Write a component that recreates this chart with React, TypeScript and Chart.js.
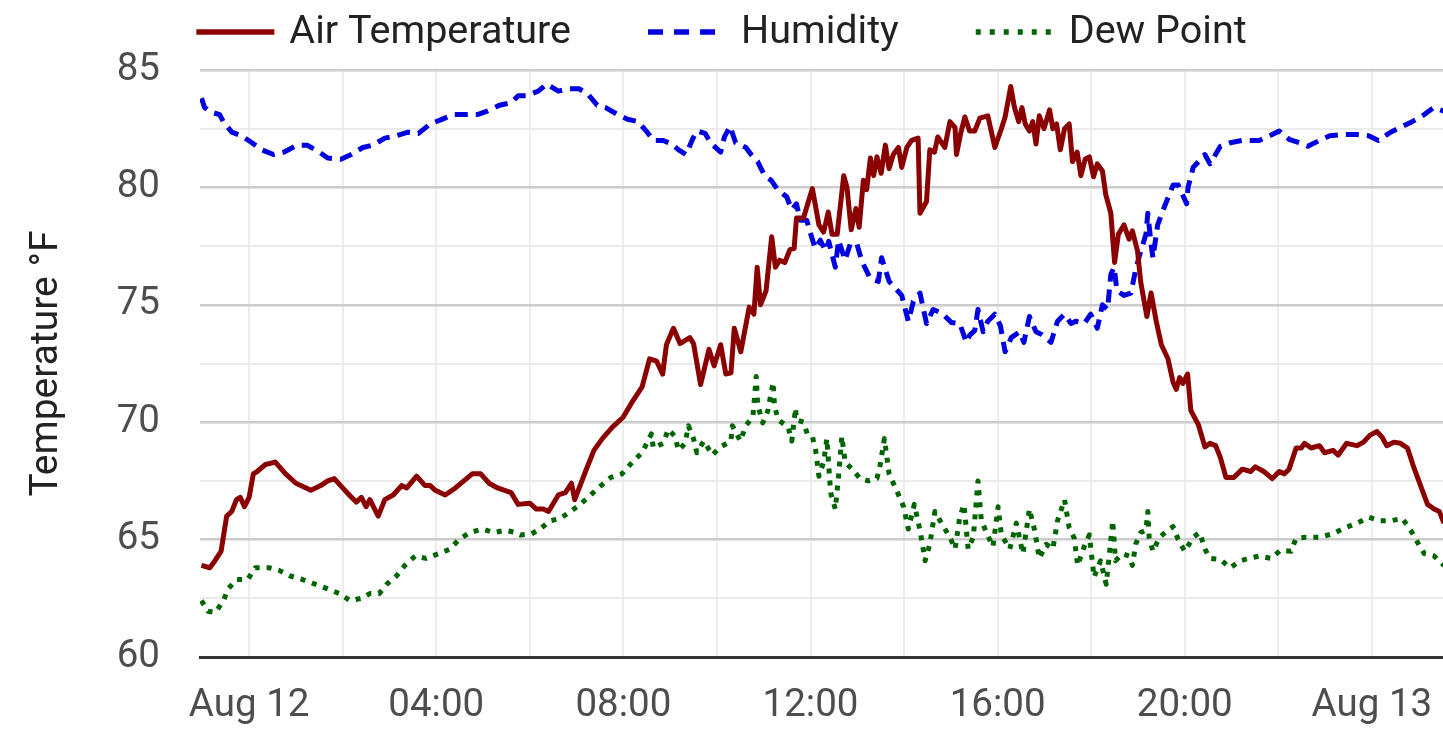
import { useEffect, useRef } from "react";
import { Chart, registerables, type ChartConfiguration, type Plugin } from "chart.js";

Chart.register(...registerables);

// hours relative to Aug 12 00:00, value
const airTemp: [number, number][] = [
  [-1.02, 63.9], [-0.84, 63.8], [-0.73, 64.1], [-0.6, 64.5], [-0.48, 66.0], [-0.37, 66.2], [-0.27, 66.7],
  [-0.19, 66.8], [-0.1, 66.4], [0, 66.8], [0.09, 67.8], [0.17, 67.9], [0.35, 68.2], [0.56, 68.3],
  [0.78, 67.8], [1.0, 67.4], [1.32, 67.1], [1.53, 67.3], [1.68, 67.5], [1.82, 67.6], [2.0, 67.2],
  [2.14, 66.9], [2.29, 66.6], [2.4, 66.8], [2.5, 66.4], [2.58, 66.7], [2.76, 66.0], [2.9, 66.7],
  [3.08, 66.9], [3.26, 67.3], [3.37, 67.2], [3.58, 67.7], [3.76, 67.3], [3.87, 67.3], [3.98, 67.1],
  [4.19, 66.9], [4.41, 67.2], [4.59, 67.5], [4.77, 67.8], [4.95, 67.8], [5.13, 67.4], [5.31, 67.2],
  [5.6, 67.0], [5.75, 66.5], [6.0, 66.55], [6.14, 66.3], [6.29, 66.3], [6.4, 66.2], [6.61, 66.9],
  [6.76, 67.0], [6.89, 67.4], [6.96, 66.7], [7.19, 67.9], [7.37, 68.8], [7.55, 69.3], [7.77, 69.8],
  [7.99, 70.2], [8.2, 70.9], [8.4, 71.5], [8.56, 72.7], [8.71, 72.6], [8.84, 72.05], [8.92, 73.3],
  [9.07, 74.0], [9.21, 73.35], [9.42, 73.6], [9.5, 73.35], [9.65, 71.6], [9.83, 73.1], [9.94, 72.4],
  [10.08, 73.3], [10.19, 72.05], [10.3, 72.1], [10.37, 74.0], [10.51, 73.0], [10.69, 74.9], [10.79, 74.6],
  [10.86, 76.6], [10.93, 75.0], [11.05, 75.6], [11.17, 77.9], [11.25, 76.6], [11.34, 76.9], [11.45, 76.8],
  [11.56, 77.35], [11.65, 77.4], [11.7, 78.7], [11.85, 78.7], [12.04, 79.95], [12.18, 78.4], [12.28, 78.1],
  [12.38, 78.95], [12.46, 78.0], [12.57, 78.0], [12.71, 80.5], [12.78, 80.0], [12.87, 78.2], [12.97, 79.1],
  [13.04, 78.3], [13.13, 80.3], [13.2, 79.9], [13.28, 81.25], [13.35, 80.5], [13.42, 81.3], [13.51, 80.6],
  [13.6, 81.8], [13.68, 80.8], [13.77, 81.4], [13.88, 81.7], [13.95, 80.85], [14.06, 81.7], [14.16, 82.0],
  [14.3, 82.1], [14.34, 78.9], [14.48, 79.4], [14.55, 81.6], [14.65, 81.5], [14.72, 82.15], [14.87, 81.7],
  [14.98, 82.8], [15.09, 82.55], [15.12, 81.4], [15.21, 82.3], [15.3, 83.0], [15.4, 82.4], [15.51, 82.4],
  [15.62, 82.95], [15.79, 83.05], [15.94, 81.7], [16.08, 82.5], [16.16, 83.0], [16.28, 84.3], [16.36, 83.4],
  [16.45, 82.8], [16.52, 83.4], [16.59, 82.7], [16.68, 82.4], [16.75, 82.8], [16.82, 81.85], [16.89, 83.05],
  [16.99, 82.5], [17.11, 83.3], [17.18, 82.5], [17.26, 82.7], [17.34, 81.6], [17.43, 82.5], [17.53, 82.7],
  [17.6, 81.1], [17.7, 81.5], [17.78, 80.5], [17.87, 81.2], [17.96, 81.3], [18.05, 80.45], [18.13, 81.0],
  [18.24, 80.7], [18.31, 79.7], [18.42, 78.9], [18.5, 76.8], [18.58, 78.0], [18.7, 78.4], [18.81, 77.8],
  [18.88, 78.15], [18.99, 77.3], [19.06, 75.95], [19.19, 74.5], [19.28, 75.5], [19.39, 74.3], [19.5, 73.3],
  [19.64, 72.7], [19.75, 71.7], [19.82, 71.4], [19.89, 71.9], [19.96, 71.65], [20.06, 72.05], [20.13, 70.5],
  [20.29, 69.9], [20.43, 68.95], [20.54, 69.1], [20.66, 69.0], [20.76, 68.5], [20.88, 67.65], [21.05, 67.65],
  [21.23, 68.0], [21.41, 67.9], [21.51, 68.1], [21.69, 67.9], [21.87, 67.6], [22.02, 67.9], [22.13, 67.8],
  [22.23, 68.0], [22.38, 68.9], [22.49, 68.9], [22.56, 69.1], [22.7, 68.9], [22.88, 69.0], [22.99, 68.7],
  [23.17, 68.8], [23.28, 68.6], [23.46, 69.1], [23.68, 69.0], [23.82, 69.15], [23.96, 69.45], [24.11, 69.6],
  [24.22, 69.35], [24.32, 69.0], [24.47, 69.15], [24.61, 69.1], [24.76, 68.9], [24.9, 68.05], [25.05, 67.25],
  [25.19, 66.5], [25.33, 66.3], [25.44, 66.2], [25.54, 65.7],
];

const humidity: [number, number][] = [
  [-1.02, 83.8], [-0.95, 83.4], [-0.8, 83.2], [-0.63, 83.1], [-0.55, 82.8], [-0.37, 82.35], [-0.16, 82.2],
  [0.06, 81.9], [0.27, 81.6], [0.52, 81.4], [0.74, 81.5], [1.03, 81.8], [1.24, 81.8], [1.5, 81.5],
  [1.68, 81.25], [1.96, 81.2], [2.18, 81.4], [2.43, 81.7], [2.65, 81.8], [2.9, 82.1], [3.15, 82.2],
  [3.4, 82.35], [3.62, 82.3], [3.87, 82.7], [4.12, 82.9], [4.37, 83.1], [4.59, 83.1], [4.88, 83.1],
  [5.09, 83.25], [5.35, 83.5], [5.6, 83.6], [5.75, 83.9], [5.93, 83.9], [6.18, 84.1], [6.36, 84.4],
  [6.61, 84.1], [6.83, 84.2], [7.05, 84.2], [7.23, 84.0], [7.44, 83.5], [7.62, 83.4], [7.88, 83.1],
  [8.09, 82.9], [8.31, 82.8], [8.49, 82.4], [8.64, 82.0], [8.85, 82.0], [9.03, 81.85], [9.18, 81.6],
  [9.34, 81.4], [9.49, 82.1], [9.57, 82.4], [9.75, 82.3], [9.86, 81.9], [10.08, 81.5], [10.16, 82.15],
  [10.28, 82.6], [10.4, 81.9], [10.62, 81.7], [10.73, 81.4], [10.87, 81.1], [11.02, 80.5], [11.16, 80.3],
  [11.3, 79.9], [11.49, 79.6], [11.6, 79.05], [11.7, 79.3], [11.78, 78.6], [11.92, 78.6], [11.96, 78.3],
  [12.1, 77.4], [12.21, 77.75], [12.32, 77.3], [12.39, 77.7], [12.53, 76.6], [12.6, 77.75], [12.74, 76.9],
  [12.85, 77.6], [12.99, 77.6], [13.1, 76.85], [13.28, 76.1], [13.45, 76.0], [13.52, 77.0], [13.68, 76.0],
  [13.77, 75.8], [13.95, 75.4], [14.09, 74.3], [14.2, 75.15], [14.34, 75.5], [14.48, 74.2], [14.62, 74.8],
  [14.8, 74.65], [15.01, 74.25], [15.19, 74.2], [15.33, 73.4], [15.4, 73.7], [15.51, 73.9], [15.58, 74.8],
  [15.69, 73.85], [15.79, 74.3], [15.94, 74.6], [16.06, 74.1], [16.16, 73.0], [16.29, 73.6], [16.47, 73.85],
  [16.56, 73.4], [16.68, 74.5], [16.82, 73.85], [16.93, 73.75], [17.14, 73.4], [17.28, 74.3], [17.43, 74.6],
  [17.57, 74.2], [17.67, 74.3], [17.85, 74.2], [17.99, 74.6], [18.13, 74.0], [18.24, 75.0], [18.35, 74.8],
  [18.42, 76.3], [18.49, 76.6], [18.55, 75.6], [18.7, 75.4], [18.85, 75.5], [18.95, 76.5], [19.06, 77.3],
  [19.17, 78.0], [19.21, 78.9], [19.28, 77.6], [19.32, 77.0], [19.42, 78.4], [19.57, 79.2], [19.75, 80.1],
  [19.86, 80.1], [20.04, 79.3], [20.07, 80.0], [20.18, 80.85], [20.43, 81.4], [20.54, 81.0], [20.76, 81.75],
  [20.97, 81.9], [21.23, 82.0], [21.59, 82.0], [21.77, 82.15], [22.02, 82.4], [22.23, 82.05], [22.45, 81.9],
  [22.63, 81.75], [22.88, 82.0], [23.1, 82.2], [23.39, 82.25], [23.68, 82.25], [23.93, 82.2], [24.14, 82.0],
  [24.4, 82.35], [24.61, 82.55], [24.86, 82.8], [25.12, 83.1], [25.32, 83.4], [25.54, 83.25],
];

const dewPoint: [number, number][] = [
  [-1.02, 62.4], [-0.88, 61.95], [-0.72, 61.9], [-0.55, 62.4], [-0.45, 62.9], [-0.27, 63.3], [-0.03, 63.3],
  [0.13, 63.8], [0.42, 63.8], [0.63, 63.7], [0.88, 63.45], [1.14, 63.3], [1.41, 63.1], [1.68, 62.9],
  [1.93, 62.7], [2.16, 62.4], [2.4, 62.5], [2.58, 62.7], [2.78, 62.7], [2.94, 63.1], [3.15, 63.45],
  [3.33, 63.9], [3.55, 64.3], [3.78, 64.2], [4.05, 64.4], [4.3, 64.6], [4.48, 65.0], [4.72, 65.3],
  [4.99, 65.45], [5.24, 65.3], [5.47, 65.4], [5.7, 65.3], [5.8, 65.2], [6.04, 65.25], [6.22, 65.45],
  [6.43, 65.8], [6.65, 65.9], [6.87, 66.2], [7.08, 66.5], [7.3, 66.9], [7.52, 67.3], [7.73, 67.65],
  [7.97, 67.8], [8.19, 68.3], [8.4, 68.7], [8.6, 69.5], [8.64, 68.9], [8.85, 69.1], [8.96, 69.7],
  [9.1, 69.4], [9.18, 68.8], [9.32, 69.1], [9.39, 69.85], [9.5, 69.3], [9.57, 68.7], [9.72, 69.2],
  [9.9, 68.6], [10.08, 68.95], [10.3, 69.2], [10.33, 69.85], [10.5, 69.2], [10.62, 69.85], [10.77, 70.25],
  [10.84, 71.95], [10.87, 70.75], [10.98, 69.97], [11.09, 70.5], [11.2, 71.7], [11.23, 70.7], [11.31, 70.1],
  [11.52, 69.8], [11.6, 69.2], [11.68, 70.6], [11.7, 70.1], [11.85, 70.0], [11.93, 69.5], [12.04, 69.4],
  [12.11, 68.8], [12.18, 67.7], [12.28, 68.3], [12.35, 69.3], [12.43, 67.0], [12.53, 66.3], [12.6, 67.7],
  [12.67, 69.4], [12.74, 68.3], [12.89, 68.0], [13.06, 67.6], [13.24, 67.5], [13.42, 67.6], [13.49, 68.2],
  [13.58, 69.3], [13.68, 67.8], [13.84, 67.1], [13.99, 66.4], [14.09, 65.45], [14.22, 66.5], [14.34, 65.4],
  [14.45, 64.1], [14.55, 64.8], [14.66, 66.2], [14.8, 65.7], [14.98, 65.1], [15.09, 64.6], [15.19, 65.95],
  [15.28, 66.5], [15.37, 64.6], [15.48, 65.1], [15.58, 67.5], [15.65, 65.85], [15.76, 65.3], [15.9, 64.7],
  [16.01, 66.4], [16.08, 65.2], [16.26, 64.6], [16.4, 65.7], [16.54, 64.4], [16.68, 66.3], [16.79, 65.4],
  [16.89, 64.2], [17.04, 64.8], [17.18, 64.6], [17.28, 65.8], [17.43, 66.7], [17.53, 65.5], [17.64, 65.05],
  [17.71, 63.9], [17.85, 64.7], [17.96, 65.2], [18.06, 63.4], [18.2, 64.1], [18.32, 63.1], [18.4, 64.6],
  [18.46, 65.8], [18.52, 64.1], [18.67, 64.4], [18.81, 64.3], [18.88, 63.9], [18.95, 64.8], [19.06, 65.3],
  [19.17, 65.4], [19.21, 66.2], [19.24, 65.05], [19.32, 64.5], [19.46, 65.1], [19.64, 65.4], [19.75, 65.55],
  [19.86, 65.0], [20.0, 64.5], [20.18, 65.1], [20.32, 65.3], [20.43, 64.6], [20.54, 64.2], [20.76, 64.15],
  [20.97, 63.8], [21.19, 64.1], [21.37, 64.2], [21.59, 64.3], [21.84, 64.2], [22.05, 64.55], [22.27, 64.5],
  [22.38, 65.05], [22.59, 65.1], [22.88, 65.1], [23.17, 65.25], [23.42, 65.5], [23.68, 65.7], [23.93, 65.95],
  [24.18, 65.8], [24.4, 65.8], [24.65, 65.9], [24.83, 65.4], [24.97, 64.9], [25.12, 64.4], [25.33, 64.3],
  [25.54, 63.9],
];

const timeLabels = ["Aug 12", "04:00", "08:00", "12:00", "16:00", "20:00", "Aug 13"];
const seriesNames = ["Air Temperature", "Humidity", "Dew Point"];

const FONT = "Roboto, 'Noto Sans', sans-serif";

const toPoints = (rows: [number, number][]) => rows.map(([x, y]) => ({ x, y }));

// legend drawn by hand so the item spacing can match the original
const lineLegend: Plugin<"line"> = {
  id: "lineLegend",
  afterDraw(chart) {
    const { ctx } = chart;
    const sample = 78;
    const gap = 15;
    const itemGap = 77;
    const y = 32;
    ctx.save();
    ctx.font = `39.5px ${FONT}`;
    const items = chart.data.datasets.map((ds) => ({
      ds,
      w: sample + gap + ctx.measureText(String(ds.label)).width,
    }));
    const total = items.reduce((s, it) => s + it.w, 0) + itemGap * (items.length - 1);
    let x = (chart.width - total) / 2;
    for (const { ds, w } of items) {
      const d = ds as any;
      ctx.beginPath();
      ctx.strokeStyle = d.borderColor;
      ctx.lineWidth = 5.5;
      ctx.lineCap = "butt";
      ctx.setLineDash(d.legendDash || []);
      ctx.moveTo(x, y);
      ctx.lineTo(x + sample, y);
      ctx.stroke();
      ctx.setLineDash([]);
      ctx.fillStyle = "#222222";
      ctx.textBaseline = "middle";
      ctx.textAlign = "left";
      ctx.fillText(String(ds.label), x + sample + gap, y + 1);
      x += w + itemGap;
    }
    ctx.restore();
  },
};

export default function App() {
  const canvasRef = useRef<HTMLCanvasElement | null>(null);

  useEffect(() => {
    const canvas = canvasRef.current;
    if (!canvas) return;

    const config: ChartConfiguration<"line"> = {
      type: "line",
      data: {
        datasets: [
          {
            label: seriesNames[0],
            data: toPoints(airTemp),
            borderColor: "#8b0000",
            borderWidth: 5,
            borderJoinStyle: "round",
            pointRadius: 0,
            tension: 0,
            legendDash: [],
          } as any,
          {
            label: seriesNames[1],
            data: toPoints(humidity),
            borderColor: "#0000e0",
            borderWidth: 5,
            borderDash: [13, 8],
            borderJoinStyle: "round",
            pointRadius: 0,
            tension: 0,
            legendDash: [15, 11],
          } as any,
          {
            label: seriesNames[2],
            data: toPoints(dewPoint),
            borderColor: "#006400",
            borderWidth: 5,
            borderDash: [5, 7],
            borderJoinStyle: "round",
            pointRadius: 0,
            tension: 0,
            legendDash: [5, 9],
          } as any,
        ],
      },
      options: {
        responsive: false,
        animation: false,
        layout: { padding: { top: 70, right: 0, left: 0, bottom: 0 } },
        plugins: {
          legend: { display: false },
          tooltip: { enabled: false },
        },
        scales: {
          x: {
            type: "linear",
            min: -1.05,
            max: 25.52,
            afterFit: (scale) => {
              scale.height = 92;
              scale.paddingRight = 0;
              scale.paddingLeft = 0;
            },
            grid: {
              color: "#ededed",
              lineWidth: 2,
              drawTicks: false,
            },
            border: { display: true, color: "#333333", width: 3 },
            ticks: {
              stepSize: 2,
              includeBounds: false,
              autoSkip: false,
              maxRotation: 0,
              padding: 26,
              color: "#4d4d4d",
              font: { family: FONT, size: 38.5 },
              callback: (v) => {
                const n = Number(v);
                return n % 4 === 0 ? timeLabels[n / 4] : "";
              },
            },
          },
          y: {
            min: 60,
            max: 85,
            afterFit: (scale) => {
              scale.width = 200;
            },
            grid: {
              color: (c) =>
                c.tick.value === 60 ? "rgba(0,0,0,0)" : c.tick.value % 5 === 0 ? "#cccccc" : "#ebebeb",
              lineWidth: (c) => (c.tick.value % 5 === 0 ? 2.5 : 2),
              drawTicks: false,
            },
            border: { display: false },
            ticks: {
              stepSize: 2.5,
              padding: 40,
              color: "#4d4d4d",
              font: { family: FONT, size: 38.5 },
              callback: (v) => (Number(v) % 5 === 0 ? String(v) : ""),
            },
            title: {
              display: true,
              text: "Temperature °F",
              color: "#222222",
              font: { family: FONT, size: 39 },
              padding: { top: 24, bottom: 0 },
            },
          },
        },
      },
      plugins: [lineLegend],
    };

    const chart = new Chart(canvas, config);
    return () => chart.destroy();
  }, []);

  return (
    <div style={{ position: "fixed", left: 0, top: 0, width: 1443, height: 749, background: "#ffffff" }}>
      <canvas ref={canvasRef} width={1443} height={749} style={{ display: "block" }} />
    </div>
  );
}
